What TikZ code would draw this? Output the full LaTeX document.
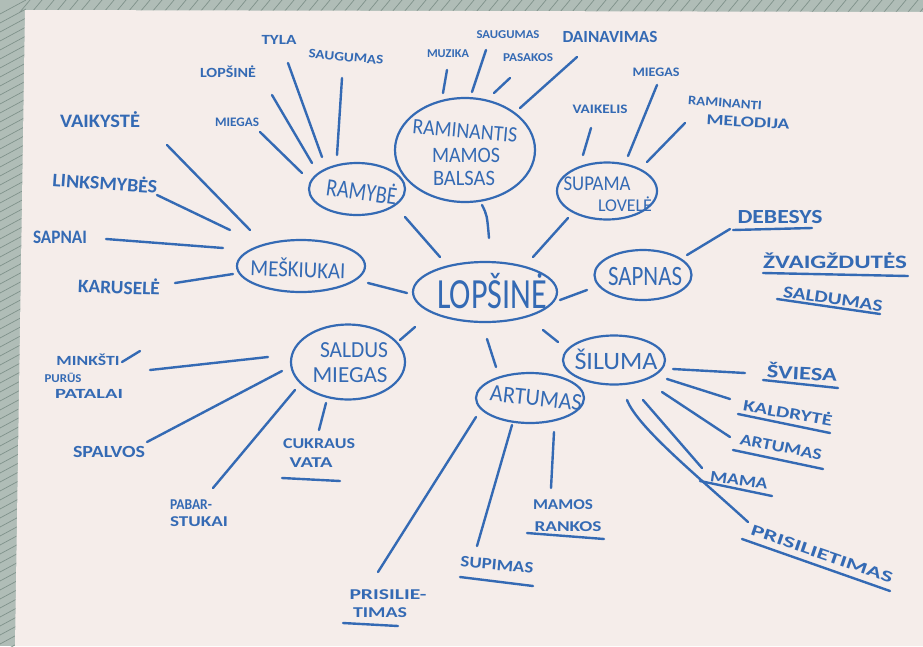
\documentclass[tikz,border=0pt]{standalone}
\usepackage{fontspec}
\usepackage{graphicx}
\usetikzlibrary{shapes.geometric}
\newfontfamily\hand{Carlito}
\definecolor{ink}{RGB}{52,106,180}
\definecolor{paper}{RGB}{245,237,234}
\definecolor{edgec}{RGB}{176,189,183}
\definecolor{edgedark}{RGB}{128,146,139}
\newsavebox\hwbox
\newcommand\fw[2]{\sbox\hwbox{#2}\scalebox{\fpeval{(#1)/(\the\wd\hwbox)}}[1]{\usebox\hwbox}}
\newcommand\fs[1]{\hand\fontsize{#1}{#1}\selectfont}
\newcommand\fb[1]{\hand\bfseries\fontsize{#1}{#1}\selectfont}
\newcommand\seg[3]{\coordinate (#1a) at (#2); \coordinate (#1b) at (#3); \draw[link] (#1a) -- (#1b);}
\begin{document}
\begin{tikzpicture}[x=1pt,y=-1pt,
  link/.style={draw=ink,line width=2.4pt,line cap=round},
  bubble/.style={ellipse,draw=ink,line width=2.2pt,inner sep=0pt},
  lab/.style={text=ink,inner sep=0pt,anchor=center}]
\useasboundingbox (0,0) rectangle (923,646);
% background photo edges and paper
\fill[edgec] (0,0) rectangle (923,646);
\foreach \y in {0,9,...,650} \draw[edgedark,line width=0.7pt] (0,\y+14) -- (26,\y);
\foreach \x in {20,32,...,923} \draw[edgedark,line width=0.7pt] (\x,12) -- (\x+10,0);
\fill[paper] (25,10) -- (923,12) -- (923,646) -- (15,646) -- cycle;

% bubbles
\node[bubble,minimum width=144pt,minimum height=60pt] (lop) at (485,292) {};
\node[bubble,minimum width=96pt,minimum height=52pt] (ramybe) at (357,189) {};
\node[bubble,minimum width=140pt,minimum height=104pt] (balsas) at (465,150) {};
\node[bubble,minimum width=100pt,minimum height=57pt] (supama) at (607,191) {};
\node[bubble,minimum width=97pt,minimum height=50pt] (sapnas) at (643,275) {};
\node[bubble,minimum width=102pt,minimum height=49pt] (siluma) at (614,360) {};
\node[bubble,minimum width=108pt,minimum height=50pt] (artumas) at (530,398) {};
\node[bubble,minimum width=114pt,minimum height=75pt] (saldus) at (348,362) {};
\node[bubble,minimum width=128pt,minimum height=52pt] (meskiukai) at (301,266) {};

% bubble texts
\node[lab,font=\fs{43}] (lopT) at (492,291) {\fw{110pt}{LOPŠINĖ}};
\node[lab,font=\fs{25},rotate=-8] (ramybeT) at (362,190) {\fw{71pt}{RAMYBĖ}};
\node[lab,font=\fs{22},rotate=-5] (balsasT1) at (465,131) {\fw{105pt}{RAMINANTIS}};
\node[lab,font=\fs{22}] (balsasT2) at (466,155) {\fw{68pt}{MAMOS}};
\node[lab,font=\fs{22}] (balsasT3) at (464,178) {\fw{62pt}{BALSAS}};
\node[lab,font=\fs{21}] (supamaT1) at (597,184) {\fw{67pt}{SUPAMA}};
\node[lab,font=\fs{18}] (supamaT2) at (625,204) {\fw{54pt}{LOVELĖ}};
\node[lab,font=\fs{28}] (sapnasT) at (645,277) {\fw{74pt}{SAPNAS}};
\node[lab,font=\fs{25}] (silumaT) at (616,359) {\fw{83pt}{ŠILUMA}};
\node[lab,font=\fs{24},rotate=-6] (artumasT) at (536,398) {\fw{92pt}{ARTUMAS}};
\node[lab,font=\fs{23}] (saldusT1) at (354,350) {\fw{68pt}{SALDUS}};
\node[lab,font=\fs{23}] (saldusT2) at (350,375) {\fw{75pt}{MIEGAS}};
\node[lab,font=\fs{23},rotate=-2] (meskiukaiT) at (298,268) {\fw{95pt}{MEŠKIUKAI}};

% leaf texts
\node[lab,font=\fb{14}] (tyla) at (279,40) {\fw{35pt}{TYLA}};
\node[lab,font=\fb{13},rotate=-5] (saug1) at (346,57) {\fw{75pt}{SAUGUMAS}};
\node[lab,font=\fb{14}] (lopsine2) at (228,72) {\fw{56pt}{LOPŠINĖ}};
\node[lab,font=\fb{13}] (miegas1) at (237,122) {\fw{44pt}{MIEGAS}};
\node[lab,font=\fb{19}] (vaikyste) at (100,120) {\fw{80pt}{VAIKYSTĖ}};
\node[lab,font=\fb{19},rotate=-4] (linksmybes) at (105,182) {\fw{105pt}{LINKSMYBĖS}};
\node[lab,font=\fb{19}] (sapnai) at (60,237) {\fw{54pt}{SAPNAI}};
\node[lab,font=\fb{19},rotate=-2] (karusele) at (119,286) {\fw{82pt}{KARUSELĖ}};
\node[lab,font=\fb{12}] (muzika) at (448,54) {\fw{42pt}{MUZIKA}};
\node[lab,font=\fb{12}] (saug2) at (508,35) {\fw{63pt}{SAUGUMAS}};
\node[lab,font=\fb{12}] (pasakos) at (528,58) {\fw{50pt}{PASAKOS}};
\node[lab,font=\fb{17}] (dainavimas) at (610,37) {\fw{95pt}{DAINAVIMAS}};
\node[lab,font=\fb{13}] (vaikelis) at (600,109) {\fw{55pt}{VAIKELIS}};
\node[lab,font=\fb{13}] (miegas2) at (656,72) {\fw{47pt}{MIEGAS}};
\node[lab,font=\fb{13},rotate=-4] (raminanti) at (725,103) {\fw{74pt}{RAMINANTI}};
\node[lab,font=\fb{15},rotate=-3] (melodija) at (748,122) {\fw{83pt}{MELODIJA}};
\node[lab,font=\fb{20}] (debesys) at (780,217) {\fw{85pt}{DEBESYS}};
\node[lab,font=\fb{19}] (zvaig) at (835,261) {\fw{144pt}{ŽVAIGŽDUTĖS}};
\node[lab,font=\fb{17},rotate=-8] (saldumas) at (833,299) {\fw{100pt}{SALDUMAS}};
\node[lab,font=\fb{19},rotate=-3] (sviesa) at (802,372) {\fw{70pt}{ŠVIESA}};
\node[lab,font=\fb{16},rotate=-10] (kaldryte) at (788,412) {\fw{90pt}{KALDRYTĖ}};
\node[lab,font=\fb{16},rotate=-11] (artumas2) at (781,447) {\fw{83pt}{ARTUMAS}};
\node[lab,font=\fb{16},rotate=-8] (mama) at (739,480) {\fw{58pt}{MAMA}};
\node[lab,font=\fb{16},rotate=-19] (prisil) at (822,554) {\fw{149pt}{PRISILIETIMAS}};
\node[lab,font=\fb{15}] (mamos) at (563,505) {\fw{60pt}{MAMOS}};
\node[lab,font=\fb{15}] (rankos) at (568,527) {\fw{67pt}{RANKOS}};
\node[lab,font=\fb{16},rotate=-5] (supimas) at (497,565) {\fw{73pt}{SUPIMAS}};
\node[lab,font=\fb{15}] (prisilie) at (388,595) {\fw{77pt}{PRISILIE-}};
\node[lab,font=\fb{15}] (timas) at (380,613) {\fw{54pt}{TIMAS}};
\node[lab,font=\fb{15}] (cukraus) at (319,444) {\fw{72pt}{CUKRAUS}};
\node[lab,font=\fb{15}] (vata) at (311,463) {\fw{43pt}{VATA}};
\node[lab,font=\fb{15}] (pabar) at (191,505) {\fw{42pt}{PABAR-}};
\node[lab,font=\fb{15}] (stukai) at (199,522) {\fw{58pt}{STUKAI}};
\node[lab,font=\fb{17}] (spalvos) at (109,452) {\fw{72pt}{SPALVOS}};
\node[lab,font=\fb{14}] (minksti) at (88,360) {\fw{63pt}{MINKŠTI}};
\node[lab,font=\fb{12}] (puru) at (63,378) {\fw{37pt}{PURŪS}};
\node[lab,font=\fb{14}] (patalai) at (89,394) {\fw{68pt}{PATALAI}};

% connectors: centre
\seg{c1}{405,217}{440,257}
\coordinate (c2a) at (482,205); \coordinate (c2b) at (489,238);
\draw[link] (c2a) .. controls (487,215) .. (c2b);
\seg{c3}{568,218}{533,257}
\seg{c4}{587,290}{560,300}
\seg{c5}{543,330}{558,342}
\seg{c6}{487,339}{496,367}
\seg{c7}{415,327}{400,340}
\seg{c8}{368,283}{407,293}
% ramybe
\seg{r1}{302,173}{260,132}
\seg{r2}{312,163}{272,95}
\seg{r3}{322,157}{288,63}
\seg{r4}{337,155}{342,78}
% meskiukai
\seg{m1}{250,230}{167,145}
\seg{m2}{230,230}{157,195}
\seg{m3}{223,248}{106,239}
\seg{m4}{233,274}{175,283}
% balsas
\seg{b1}{443,93}{447,70}
\seg{b2}{472,92}{486,50}
\seg{b3}{494,93}{510,78}
\seg{b4}{520,108}{577,57}
% supama
\seg{s1}{583,155}{591,128}
\seg{s2}{628,156}{657,85}
\seg{s3}{647,162}{685,123}
% sapnas
\seg{p1}{687,255}{730,229}
% siluma
\seg{i1}{673,369}{745,373}
\seg{i2}{667,379}{730,399}
\seg{i3}{662,392}{730,437}
\seg{i4}{643,400}{702,468}
\coordinate (i5a) at (627,400); \coordinate (i5b) at (748,522);
\draw[link] (i5a) .. controls (638,428) and (700,478) .. (i5b);
% artumas
\seg{a1}{554,432}{551,488}
\seg{a2}{512,425}{477,546}
\seg{a3}{476,417}{378,572}
% saldus
\seg{d1}{268,357}{150,370}
\seg{d2}{282,371}{147,442}
\seg{d3}{295,390}{213,488}
\seg{d4}{326,403}{319,430}
\seg{d5}{122,362}{140,351}
% underlines
\seg{u1}{733,230}{812,228}
\seg{u2}{763,273}{908,276}
\seg{u3}{777,299}{880,314}
\seg{u4}{763,380}{838,388}
\seg{u5}{738,414}{830,433}
\seg{u6}{733,450}{823,469}
\seg{u7}{700,481}{772,496}
\seg{u8}{742,539}{890,591}
\seg{u9}{527,533}{604,539}
\seg{u10}{460,577}{533,586}
\seg{u11}{343,623}{398,626}
\seg{u12}{282,478}{340,481}
\end{tikzpicture}
\end{document}
